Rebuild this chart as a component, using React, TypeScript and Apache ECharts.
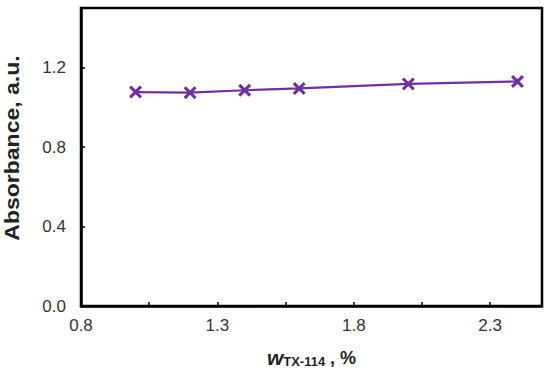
import React, { useEffect, useRef } from "react";
import * as echarts from "echarts";

const xValues = [1.0, 1.2, 1.4, 1.6, 2.0, 2.4];
const absorbance = [1.077, 1.074, 1.086, 1.095, 1.118, 1.13];
const xOrigin = 0.8;
const xMaxValue = 2.49;
const xTickStep = 0.25;
const xLabelStep = 0.5;
const yMaxValue = 1.5;
const yTickStep = 0.4;
const yTitle = "Absorbance, a.u.";

const crossPath =
  "path://M0,1.7L1.7,0L5,3.3L8.3,0L10,1.7L6.7,5L10,8.3L8.3,10L5,6.7L1.7,10L0,8.3L3.3,5Z";

export default function App() {
  const ref = useRef<HTMLDivElement>(null);
  useEffect(() => {
    if (!ref.current) return;
    const chart = echarts.init(ref.current, null, { renderer: "svg" });
    const data = xValues.map((x, i) => [x - xOrigin, absorbance[i]]);
    const font = "'Liberation Sans', Arial, sans-serif";
    chart.setOption({
      animation: false,
      grid: {
        left: 81,
        top: 8,
        right: 8,
        bottom: 67,
        show: true,
        borderColor: "#000",
        borderWidth: 2.5,
      },
      graphic: [
        {
          type: "text",
          x: 12,
          y: 148,
          rotation: Math.PI / 2,
          scaleX: 1.15,
          style: {
            text: yTitle,
            fontFamily: font,
            fontSize: 20,
            fontWeight: "bold",
            fill: "#222",
            align: "center",
            verticalAlign: "middle",
          },
        },
      ],
      xAxis: {
        type: "value",
        min: 0,
        max: xMaxValue - xOrigin,
        interval: xTickStep,
        splitLine: { show: false },
        axisLine: { show: true, lineStyle: { color: "#000", width: 2.5 } },
        axisTick: { show: true, inside: true, length: 4, lineStyle: { color: "#000", width: 1.5 } },
        axisLabel: {
          fontFamily: font,
          fontSize: 17,
          color: "#333",
          margin: 11,
          showMaxLabel: false,
          formatter: (v: number) => {
            const r = v / xLabelStep;
            return Math.abs(r - Math.round(r)) < 1e-6 ? (v + xOrigin).toFixed(1) : "";
          },
        },
        name: "{w|w}{sub|TX-114}{b| , %}",
        nameLocation: "middle",
        nameGap: 41,
        nameTextStyle: {
          rich: {
            w: { fontFamily: font, fontSize: 21, fontWeight: "bold", fontStyle: "italic", color: "#222" },
            sub: { fontFamily: font, fontSize: 13, fontWeight: "bold", color: "#222", verticalAlign: "bottom", padding: [8, 0, 0, 0] },
            b: { fontFamily: font, fontSize: 18, fontWeight: "bold", color: "#222" },
          },
        },
      },
      yAxis: {
        type: "value",
        min: 0,
        max: yMaxValue,
        interval: yTickStep,
        splitLine: { show: false },
        axisLine: { show: true, lineStyle: { color: "#000", width: 2.5 } },
        axisTick: { show: true, inside: true, length: 4, lineStyle: { color: "#000", width: 1.5 } },
        axisLabel: {
          fontFamily: font,
          fontSize: 17,
          color: "#333",
          margin: 15,
          showMaxLabel: false,
          formatter: (v: number) => {
            const r = v / yTickStep;
            return Math.abs(r - Math.round(r)) < 1e-6 ? v.toFixed(1) : "";
          },
        },
      },
      series: [
        {
          type: "line",
          data,
          symbol: crossPath,
          symbolSize: 13,
          showAllSymbol: true,
          lineStyle: { color: "#7030A0", width: 2.2 },
          itemStyle: { color: "#7030A0" },
        },
      ],
    });
    return () => chart.dispose();
  }, []);
  return <div ref={ref} style={{ width: 550, height: 373, position: "absolute", left: 0, top: 0 }} />;
}
